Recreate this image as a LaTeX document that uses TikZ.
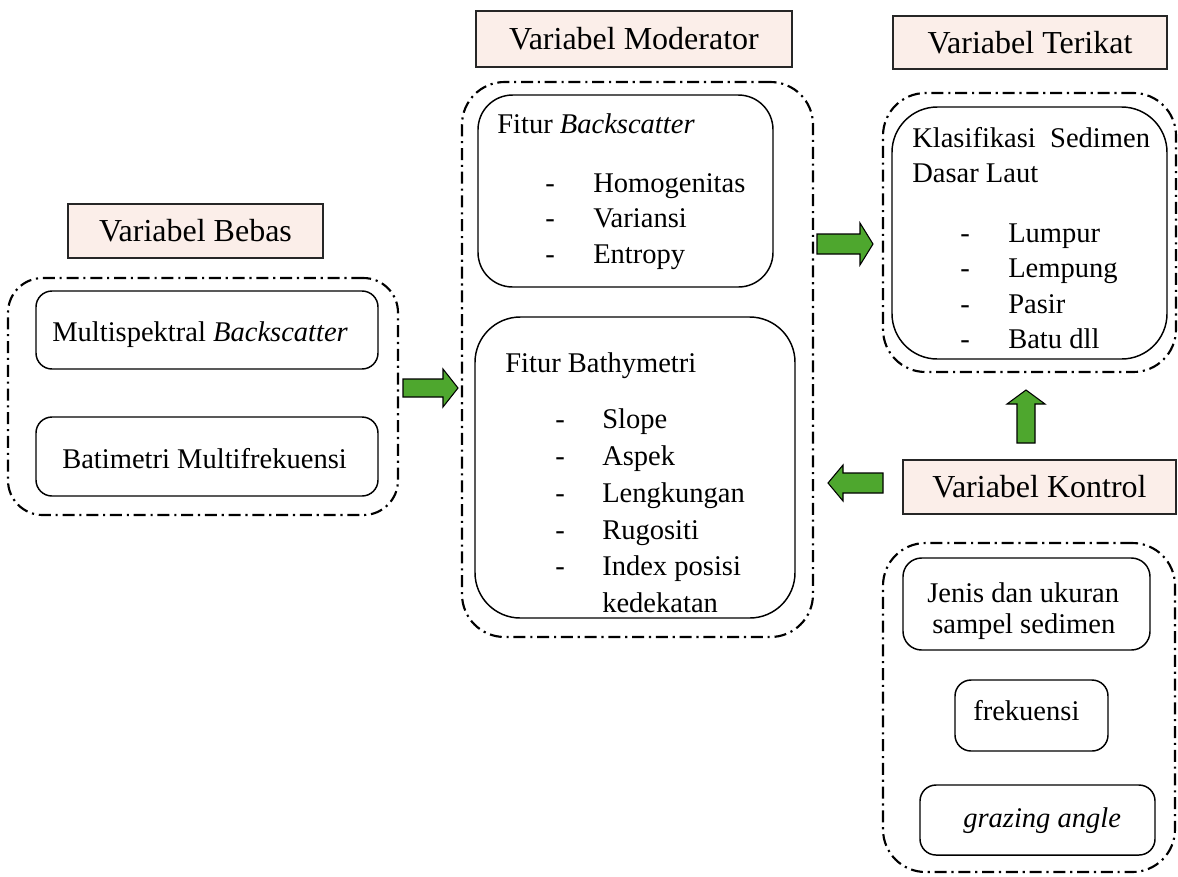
\documentclass[tikz,border=0pt]{standalone}
\usepackage{fontspec}
\setmainfont{Liberation Serif}
\usetikzlibrary{fit}
\definecolor{hdrfill}{HTML}{FBEEE9}
\definecolor{arrowgreen}{HTML}{4EA72E}
\tikzset{
  hdr/.style={draw=black!85, fill=hdrfill, line width=1.1pt, inner sep=0pt},
  hdrtext/.style={inner sep=0pt, font=\fontsize{24}{28}\selectfont},
  group/.style={draw, line width=1.6pt, inner sep=0pt,
    dash pattern=on 9pt off 3.6pt on 1.6pt off 3.6pt},
  card/.style={draw, line width=1.1pt, inner sep=0pt},
  txt/.style={anchor=base west, inner sep=0pt, font=\fontsize{21.4}{26}\selectfont},
  blockarrow/.style={fill=arrowgreen, draw=black, line width=0.8pt, line join=miter}
}
\begin{document}
\begin{tikzpicture}[x=0.75pt, y=-0.75pt]
\useasboundingbox (0,0) rectangle (1178,876);

% ---- headers
\node[hdr, fit={(68,204) (323,258)}] (hBebas) {};
\node[hdr, fit={(476,11) (792,67)}] (hMod) {};
\node[hdr, fit={(893,16) (1167,69)}] (hTer) {};
\node[hdr, fit={(903,460) (1176,514)}] (hKon) {};
\node[hdrtext] (lBebas) at (hBebas.center) {Variabel Bebas};
\node[hdrtext] (lMod) at (hMod.center) {Variabel Moderator};
\node[hdrtext] (lTer) at (hTer.center) {Variabel Terikat};
\node[hdrtext] (lKon) at (hKon.center) {Variabel Kontrol};

% ---- independent variables
\node[group, rounded corners=26pt, fit={(8,278) (398,515)}] (gBebas) {};
\node[card, rounded corners=12pt, fit={(36,291) (378,369)}] (bMulti) {};
\node[card, rounded corners=12pt, fit={(36,417) (378,496)}] (bBat) {};
\node[txt] (tMulti) at (52,341) {Multispektral \textit{Backscatter}};
\node[txt] (tBat) at (62,468) {Batimetri Multifrekuensi};

% ---- moderator variables
\node[group, rounded corners=32pt, fit={(462,82) (813,637)}] (gMod) {};
\node[card, rounded corners=26pt, fit={(478,95) (773,287)}] (bBack) {};
\node[card, rounded corners=34pt, fit={(475,317) (795,618)}] (bBathy) {};
\node[txt] (tBack) at (497,133) {Fitur \textit{Backscatter}};
\foreach \y/\t [count=\i] in {192/Homogenitas, 227/Variansi, 263/Entropy}{
  \node[txt] (dB\i) at (545,\y) {-};
  \node[txt] (iB\i) at (593,\y) {\t};
}
\node[txt] (tBathy) at (505,372) {Fitur Bathymetri};
\foreach \y/\t [count=\i] in {428/Slope, 465/Aspek, 502/Lengkungan, 539/Rugositi, 575/Index posisi}{
  \node[txt] (dT\i) at (555,\y) {-};
  \node[txt] (iT\i) at (602,\y) {\t};
}
\node[txt] (iT6) at (602,612) {kedekatan};

% ---- dependent variable
\node[group, rounded corners=32pt, fit={(883,93) (1176,372)}] (gTer) {};
\node[card, rounded corners=34pt, fit={(892,107) (1167,359)}] (bKlas) {};
\node[txt] (tKlas1) at (912,147) {Klasifikasi\ \ Sedimen};
\node[txt] (tKlas2) at (912,182) {Dasar Laut};
\foreach \y/\t [count=\i] in {242/Lumpur, 277/Lempung, 313/Pasir, 348/Batu dll}{
  \node[txt] (dK\i) at (960,\y) {-};
  \node[txt] (iK\i) at (1008,\y) {\t};
}

% ---- control variables
\node[group, rounded corners=32pt, fit={(883,543) (1175,872)}] (gKon) {};
\node[card, rounded corners=14pt, fit={(903,558) (1150,650)}] (bJenis) {};
\node[card, rounded corners=12pt, fit={(955,680) (1108,751)}] (bFrek) {};
\node[card, rounded corners=12pt, fit={(920,785) (1155,855)}] (bGraz) {};
\node[txt] (tJenis1) at (927,602) {Jenis dan ukuran};
\node[txt] (tJenis2) at (932,633) {sampel sedimen};
\node[txt] (tFrek) at (973,720) {frekuensi};
\node[txt] (tGraz) at (963,827) {\textit{grazing angle}};

% ---- block arrows
\coordinate (a1) at (403,388);
\draw[blockarrow] (a1) ++(0,-9) -- ++(40,0) -- ++(0,-10) -- ++(15,19)
  -- ++(-15,19) -- ++(0,-10) -- ++(-40,0) -- cycle;
\coordinate (a2) at (817,244);
\draw[blockarrow] (a2) ++(0,-10) -- ++(43,0) -- ++(0,-11) -- ++(13,21)
  -- ++(-13,21) -- ++(0,-11) -- ++(-43,0) -- cycle;
\coordinate (a3) at (1026,443);
\draw[blockarrow] (a3) ++(-9,0) -- ++(0,-39) -- ++(-10,0) -- ++(19,-14)
  -- ++(19,14) -- ++(-10,0) -- ++(0,39) -- cycle;
\coordinate (a4) at (883,483);
\draw[blockarrow] (a4) ++(0,-10) -- ++(-40,0) -- ++(0,-8) -- ++(-15,18)
  -- ++(15,18) -- ++(0,-8) -- ++(40,0) -- cycle;
\end{tikzpicture}
\end{document}
